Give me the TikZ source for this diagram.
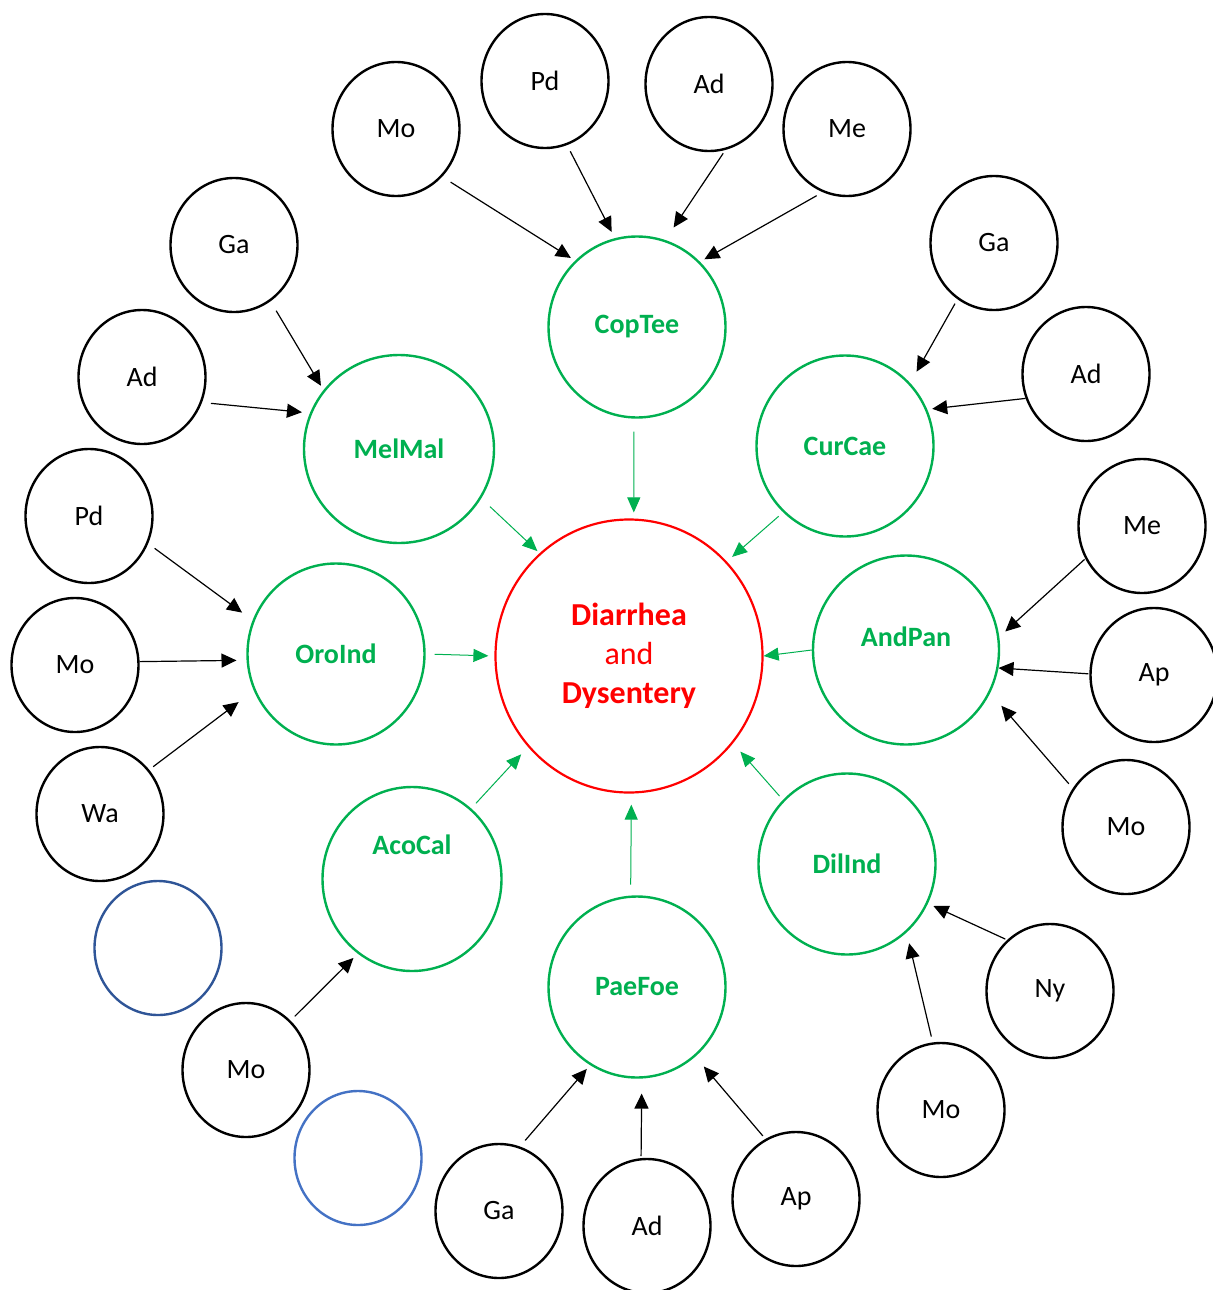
\documentclass[tikz,border=0pt]{standalone}
\usepackage{fontspec}
\setmainfont{Carlito}
\usetikzlibrary{shapes.geometric,arrows.meta}
\definecolor{leafgreen}{HTML}{00B050}
\definecolor{darkblue}{HTML}{2F5597}
\definecolor{lightblue}{HTML}{4472C4}
\begin{document}
\begin{tikzpicture}[x=0.5pt,y=-0.5pt,
    factor/.style={ellipse,draw=black,line width=1.2pt,inner sep=0pt,minimum width=63.5pt,minimum height=67pt,font=\fontsize{14}{16}\selectfont},
    plant/.style={ellipse,draw=leafgreen,line width=1.2pt,inner sep=0pt,minimum width=88.5pt,minimum height=90.5pt,text=leafgreen,font=\fontsize{14}{16}\selectfont\bfseries},
    disease/.style={ellipse,draw=red,line width=1.1pt,inner sep=0pt,minimum width=133.5pt,minimum height=136.5pt,text=red,align=center,font=\fontsize{16}{19.5}\selectfont},
    blk/.style={-{Triangle[length=7.5pt,width=7pt]},line width=0.6pt},
    grn/.style={-{Triangle[length=7.5pt,width=6.5pt]},draw=leafgreen,line width=0.5pt}]
    \useasboundingbox (0,0) rectangle (1212,1290);
    %% centre
    \node[disease] (dd) at (629,656) {\textbf{Diarrhea}\\and\\\textbf{Dysentery}};
    %% plants
    \node[plant] (cop) at (637,327) {CopTee};
    \node[plant,minimum width=95pt,minimum height=94pt] (mel) at (399,449) {MelMal};
    \node[plant] (cur) at (845,446) {CurCae};
    \node[plant] (oro) at (336,654) {OroInd};
    \node[plant,minimum width=93pt,minimum height=94.5pt,label={[text=leafgreen,font=\fontsize{14}{16}\selectfont\bfseries,yshift=6.5pt]center:AndPan}] (and) at (906,650) {};
    \node[plant,minimum width=89.5pt,minimum height=92pt,label={[text=leafgreen,font=\fontsize{14}{16}\selectfont\bfseries,yshift=17pt]center:AcoCal}] (aco) at (412,879) {};
    \node[plant] (dil) at (847,864) {DilInd};
    \node[plant] (pae) at (637,987) {PaeFoe};
    %% factors, top
    \node[factor] (moT) at (396,129) {Mo};
    \node[factor] (pdT) at (545,81) {Pd};
    \node[factor] (adT) at (709,84) {Ad};
    \node[factor] (meT) at (847,129) {Me};
    %% factors, left
    \node[factor] (gaL) at (234,245) {Ga};
    \node[factor] (adL) at (142,377) {Ad};
    \node[factor] (pdL) at (89,516) {Pd};
    \node[factor] (moL) at (75,665) {Mo};
    \node[factor] (waL) at (100,814) {Wa};
    \node[factor,draw=darkblue] (blankA) at (158,948) {};
    \node[factor] (moB) at (246,1070) {Mo};
    \node[factor,draw=lightblue] (blankB) at (358,1158) {};
    %% factors, bottom
    \node[factor] (gaB) at (499,1211) {Ga};
    \node[factor] (adB) at (647,1226) {Ad};
    \node[factor] (apB) at (796,1199) {Ap};
    %% factors, right
    \node[factor] (moR) at (941,1110) {Mo};
    \node[factor] (nyR) at (1050,991) {Ny};
    \node[factor] (moE) at (1126,827) {Mo};
    \node[factor] (apE) at (1154,675) {Ap};
    \node[factor] (meE) at (1142,526) {Me};
    \node[factor] (adE) at (1086,374) {Ad};
    \node[factor] (gaE) at (994,243) {Ga};
    %% next \draw are factors to plants
    \draw[blk,shorten <=5pt,shorten >=2.5pt] (moT.-46.6) -- (cop.133.3);
    \draw[blk,shorten <=3.5pt,shorten >=3.5pt] (pdT.-71.8) -- (cop.104.3);
    \draw[blk,shorten <=2pt,shorten >=7.5pt] (adT.-76) -- (cop.72);
    \draw[blk,shorten <=3.5pt,shorten >=2.5pt] (meT.-111.7) -- (cop.46.3);
    \draw[blk,shorten <=5.5pt,shorten >=2.5pt] (gaL.-57.1) -- (mel.142.4);
    \draw[blk,shorten <=4.5pt,shorten >=4pt] (adL.-23.1) -- (mel.158.2);
    \draw[blk,shorten <=4pt,shorten >=6.5pt] (pdL.-25.9) -- (oro.158.9);
    \draw[blk,shorten >=5pt] (moL.3.6) -- (oro.-176);
    \draw[blk,shorten <=2.5pt,shorten >=9.5pt] (waL.42.2) -- (oro.-156.3);
    \draw[blk,shorten <=3pt,shorten >=3pt] (moB.48.4) -- (aco.-126.2);
    \draw[blk,shorten <=4pt,shorten >=2.5pt] (gaB.72) -- (pae.-121.2);
    \draw[blk,shorten <=1pt,shorten >=7.5pt] (adB.95) -- (pae.-87.8);
    \draw[blk,shorten <=2pt,shorten >=6.5pt] (apB.117.3) -- (pae.-50.1);
    \draw[blk,shorten <=3pt,shorten >=5.5pt] (moR.97.9) -- (dil.-49.8);
    \draw[blk,shorten <=1pt,shorten >=3pt] (nyR.130.2) -- (dil.-26.3);
    \draw[blk,shorten <=3pt,shorten >=8.5pt] (moE.144.1) -- (and.-27.5);
    \draw[blk,shorten <=0.5pt] (apE.179) -- (and.-11.9);
    \draw[blk,shorten <=0.5pt,shorten >=4pt] (meE.-150.4) -- (and.8.5);
    \draw[blk,shorten >=2.5pt] (adE.-158.7) -- (cur.24.1);
    \draw[blk,shorten <=2.5pt,shorten >=6.5pt] (gaE.-123.5) -- (cur.44.2);
    %% next \draw are plants to disease
    \draw[grn,shorten <=6.5pt,shorten >=3pt] (cop.-92.2) -- (dd.88.4);
    \draw[grn,shorten <=6pt,shorten >=1.5pt] (mel.-31.9) -- (dd.131.2);
    \draw[grn,shorten <=3pt,shorten >=3.5pt] (cur.-133.7) -- (dd.44.7);
    \draw[grn,shorten <=4.5pt,shorten >=3pt] (oro.0) -- (dd.180);
    \draw[grn] (and.180) -- (dd.0);
    \draw[grn,shorten <=3.5pt,shorten >=5pt] (aco.50.9) -- (dd.-138);
    \draw[grn,shorten <=5.5pt,shorten >=5.5pt] (pae.94) -- (dd.-89.6);
    \draw[grn,shorten <=2.5pt,shorten >=5.5pt] (dil.135.9) -- (dd.-40.9);
\end{tikzpicture}
\end{document}
